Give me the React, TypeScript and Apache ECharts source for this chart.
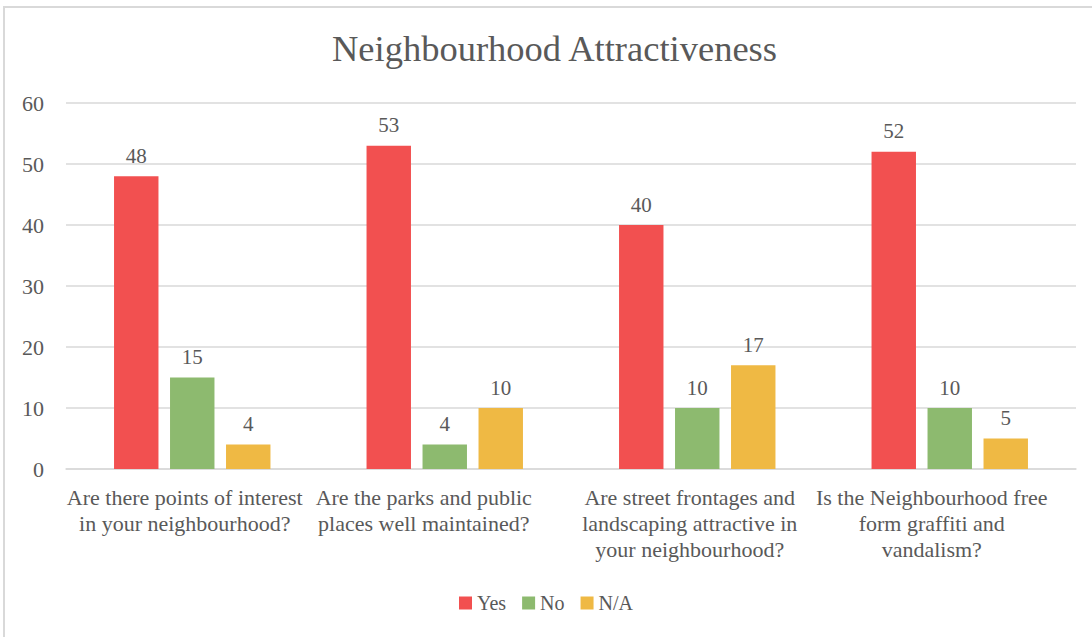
import React, { useEffect, useRef } from "react";
import * as echarts from "echarts";

const categories = [
  "Are there points of interest\nin your neighbourhood?",
  "Are the parks and public\nplaces well maintained?",
  "Are street frontages and\nlandscaping attractive in\nyour neighbourhood?",
  "Is the Neighbourhood free\nform graffiti and\nvandalism?",
];
const yesValues = [48, 53, 40, 52];
const noValues = [15, 4, 10, 10];
const naValues = [4, 10, 17, 5];
const seriesNames = ["Yes", "No", "N/A"];
const colors = ["#F25050", "#8DBA6F", "#EFB944"];
const labelShift = [15, 42, 15, 36];

const FONT = "Liberation Serif";
const TXT = "#595959";

export default function App() {
  const ref = useRef<HTMLDivElement>(null);
  useEffect(() => {
    if (!ref.current) return;
    const chart = echarts.init(ref.current, undefined, { renderer: "svg" });
    const values = [yesValues, noValues, naValues];
    const ts = (size: number) => ({
      fontFamily: FONT,
      fontSize: size,
      fontWeight: "normal" as const,
      color: TXT,
    });
    chart.setOption({
      animation: false,
      backgroundColor: "#ffffff",
      textStyle: { fontFamily: FONT, fontWeight: "normal" },
      title: {
        text: "Neighbourhood Attractiveness",
        left: 327,
        top: 25,
        textStyle: ts(36.5),
      },
      legend: {
        bottom: 19,
        left: "center",
        itemWidth: 13,
        itemHeight: 13,
        itemGap: 16,
        icon: "rect",
        textStyle: ts(20),
        data: seriesNames,
      },
      grid: { left: 66, right: 16, top: 103, bottom: 168, containLabel: false },
      xAxis: {
        type: "category",
        data: categories.map((c, i) => ({
          value: c,
          textStyle: { padding: [0, labelShift[i], 0, 0] },
        })),
        axisLine: { show: true, lineStyle: { color: "#D9D9D9", width: 1.5 } },
        axisTick: { show: false },
        axisLabel: {
          interval: 0,
          ...ts(22),
          lineHeight: 26,
          margin: 15,
        },
      },
      yAxis: {
        type: "value",
        min: 0,
        max: 60,
        interval: 10,
        axisLine: { show: false },
        axisTick: { show: false },
        splitLine: { lineStyle: { color: "#D9D9D9", width: 1.5 } },
        axisLabel: { ...ts(22), margin: 22 },
      },
      graphic: [
        {
          type: "rect",
          shape: { x: 4, y: 7, width: 1200, height: 700 },
          style: { fill: "none", stroke: "#D9D9D9", lineWidth: 2 },
          silent: true,
        },
      ],
      series: seriesNames.map((name, i) => ({
        name,
        type: "bar",
        data: values[i],
        barWidth: "17.6%",
        barGap: "26%",
        itemStyle: { color: colors[i] },
        label: {
          show: true,
          position: "top",
          distance: 10,
          ...ts(21),
        },
      })),
    });
    return () => chart.dispose();
  }, []);
  return (
    <div
      ref={ref}
      style={{ position: "absolute", left: 0, top: 0, width: 1092, height: 637 }}
    />
  );
}
